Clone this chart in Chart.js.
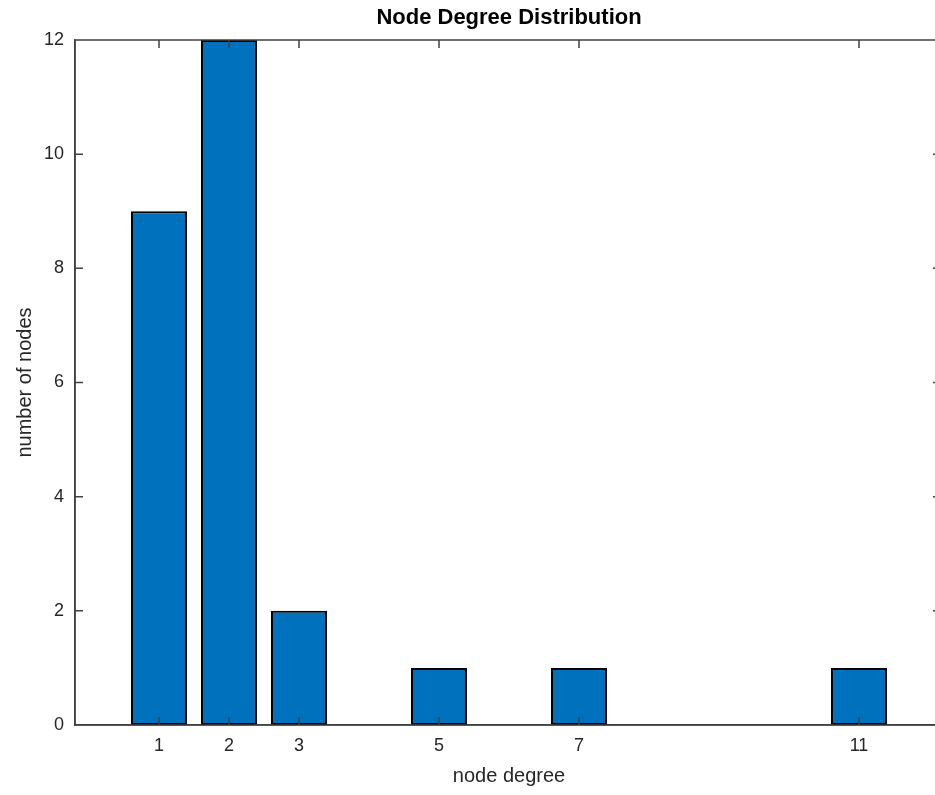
<!DOCTYPE html>
<html>
<head>
<meta charset="utf-8">
<script src="https://cdn.jsdelivr.net/npm/chart.js@4"></script>
<style>
  html, body { margin: 0; padding: 0; background: #fff; overflow: hidden; }
  #wrap { position: absolute; left: 0; top: 0; width: 950px; height: 795px; }
</style>
</head>
<body>
<div id="wrap"><canvas id="degreeChart" width="950" height="795"></canvas></div>
<script>
// node degree histogram
const nodeDegree = [1, 2, 3, 5, 7, 11];
const nodeCount = [9, 12, 2, 1, 1, 1];
const xTickValues = [1, 2, 3, 5, 7, 11];
const yTickValues = [0, 2, 4, 6, 8, 10, 12];

const axisColor = "#404040";
const textColor = "#262626";
const fontFamily = "'Liberation Sans', Arial, Helvetica, sans-serif";

// MATLAB style box: top line plus inward ticks on every side
const frameTicks = {
    id: "frameTicks",
    afterDatasetsDraw(chart) {
        const ctx = chart.ctx;
        const a = chart.chartArea;
        const x = chart.scales.x;
        const y = chart.scales.y;
        const len = 8;
        ctx.save();
        ctx.strokeStyle = axisColor;
        ctx.lineWidth = 1.5;
        ctx.beginPath();
        ctx.moveTo(a.left, a.top);
        ctx.lineTo(a.right, a.top);
        ctx.lineTo(a.right, a.bottom);
        ctx.lineTo(a.left, a.bottom);
        ctx.lineTo(a.left, a.top);
        x.ticks.forEach(t => {
            const px = x.getPixelForValue(t.value);
            ctx.moveTo(px, a.bottom);
            ctx.lineTo(px, a.bottom - len);
            ctx.moveTo(px, a.top);
            ctx.lineTo(px, a.top + len);
        });
        y.ticks.forEach(t => {
            const py = y.getPixelForValue(t.value);
            ctx.moveTo(a.left, py);
            ctx.lineTo(a.left + len, py);
            ctx.moveTo(a.right, py);
            ctx.lineTo(a.right - len - 2, py);
        });
        ctx.stroke();
        ctx.restore();
    }
};

new Chart("degreeChart", {
    type: "bar",
    data: {
        datasets: [{
            data: nodeDegree.map((d, i) => ({ x: d, y: nodeCount[i] })),
            backgroundColor: "#0072BD",
            borderColor: "#000000",
            borderWidth: 2,
            borderSkipped: false,
            barPercentage: 0.8,
            categoryPercentage: 1.0
        }]
    },
    options: {
        responsive: false,
        animation: false,
        layout: { padding: { left: 0, right: 7, top: 0, bottom: 0 } },
        plugins: {
            legend: { display: false },
            tooltip: { enabled: false },
            title: {
                display: true,
                fullSize: false,
                text: "Node Degree Distribution",
                color: "#000",
                font: { family: fontFamily, size: 22, weight: "bold" },
                padding: { top: 5, bottom: 8.6 }
            }
        },
        scales: {
            x: {
                type: "linear",
                min: -0.2,
                max: 12.2,
                offset: false,
                grid: { display: false, drawTicks: false },
                border: { display: true, color: axisColor, width: 1.5 },
                afterBuildTicks: s => { s.ticks = xTickValues.map(v => ({ value: v })); },
                afterFit: s => { s.height = 70; },
                ticks: {
                    padding: 10,
                    color: textColor,
                    maxRotation: 0,
                    autoSkip: false,
                    font: { family: fontFamily, size: 18 }
                },
                title: {
                    display: true,
                    text: "node degree",
                    color: textColor,
                    font: { family: fontFamily, size: 20 },
                    padding: { top: 0, bottom: 7 }
                }
            },
            y: {
                min: 0,
                max: 12,
                grid: { display: false, drawTicks: false },
                border: { display: true, color: axisColor, width: 1.5 },
                afterBuildTicks: s => { s.ticks = yTickValues.map(v => ({ value: v })); },
                afterFit: s => { s.width = 75; },
                ticks: {
                    padding: 11,
                    color: textColor,
                    font: { family: fontFamily, size: 18 }
                },
                title: {
                    display: true,
                    text: "number of nodes",
                    color: textColor,
                    font: { family: fontFamily, size: 20 },
                    padding: { top: 13, bottom: 0 }
                }
            }
        }
    },
    plugins: [frameTicks]
});
</script>
</body>
</html>
